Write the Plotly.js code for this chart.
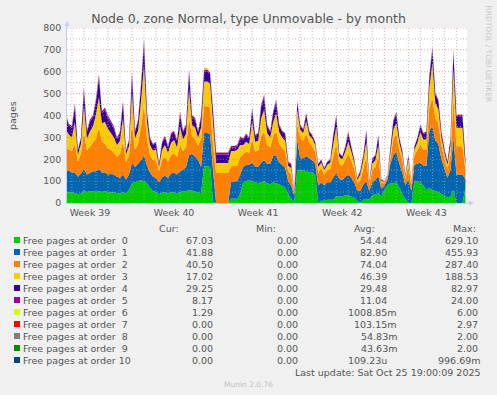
<!DOCTYPE html>
<html><head><meta charset="utf-8">
<script src="https://cdn.plot.ly/plotly-3.0.1.min.js"></script>
<style>html,body{margin:0;padding:0;background:#f0f0f0;}#chart{width:497px;height:395px;}</style>
</head><body><div id="chart"></div>
<script>
// ---- data (6-hourly samples, Free pages per order) ----
const startTime = Date.UTC(2025, 8, 22, 12, 0, 0);
const stepHours = 6;
const seriesColors = ['#00CC00','#0066B3','#FF8000','#FFCC00','#330099','#990099','#CCFF00','#FF0000','#808080','#008F00','#00487D'];
const seriesLabels = ['Free pages at order\u00a0\u00a00','Free pages at order\u00a0\u00a01','Free pages at order\u00a0\u00a02','Free pages at order\u00a0\u00a03','Free pages at order\u00a0\u00a04','Free pages at order\u00a0\u00a05','Free pages at order\u00a0\u00a06','Free pages at order\u00a0\u00a07','Free pages at order\u00a0\u00a08','Free pages at order\u00a0\u00a09','Free pages at order 10'];
const order0 = [50,48,50,45,40,45,55,50,52,55, 50,55,50,55,50,48,50,45,45,50, 42,60,90,95,100,105,100,90,70,55, 50,40,48,50,45,50,48,45,50,52, 55,60,55,50,48,45,168,168,165,5, 0,0,0,0,0,20,20,20,40,95, 100,105,100,95,90,95,100,90,85,95, 90,85,80,70,40,20,0,150,150,150, 145,140,140,130,0,10,10,15,15,15, 30,30,30,35,35,30,25,10,0,15, 20,15,35,40,45,30,60,80,90,90, 95,70,40,20,0,0,100,100,95,80, 60,70,60,55,50,40,35,25,30,60, 0,0,0,67.03];
const order1 = [95,100,90,95,80,90,100,80,85,90, 95,100,90,85,80,85,80,75,70,80, 65,70,95,70,80,90,120,80,70,65, 65,55,70,75,70,85,90,85,95,100, 110,160,170,160,150,120,152,152,150,140, 0,0,0,0,0,78,78,80,90,70, 75,70,85,70,75,90,95,90,95,120, 130,100,95,90,60,60,35,140,55,55, 70,65,55,50,80,85,70,80,80,100, 110,80,75,85,95,85,70,45,55,70, 80,40,60,65,80,35,20,25,90,130, 140,110,100,60,110,55,75,80,90,90, 110,260,290,230,220,160,120,90,120,240, 130,130,130,41.88];
const order2 = [110,95,100,130,70,90,170,110,120,130, 150,190,140,130,120,110,100,90,110,150, 80,85,180,80,90,150,230,120,80,75, 80,50,80,85,75,85,90,80,120,85, 90,170,80,80,65,130,122,122,120,120, 137,137,137,137,137,70,70,70,80,60, 60,55,110,70,75,120,130,85,75,90, 110,85,75,75,45,50,15,70,90,80, 100,70,65,55,60,65,50,55,60,100, 130,70,65,75,95,80,60,35,50,70, 110,25,55,60,90,25,12,10,35,70, 80,60,55,30,60,30,45,60,85,75, 75,110,130,100,95,65,50,40,70,180, 130,130,130,40.5];
const order3 = [80,70,60,100,30,45,120,55,70,75, 110,140,85,100,90,75,70,55,60,110, 35,45,140,50,60,120,180,80,45,45, 50,20,45,55,40,55,60,45,85,55, 60,130,50,55,35,50,114,114,110,100, 46,46,46,46,46,70,70,72,55,40, 45,40,80,45,45,85,100,55,45,65, 80,55,50,50,25,30,5,65,40,35, 60,35,35,30,25,25,20,25,30,55, 80,30,30,40,55,40,30,15,25,40, 70,12,30,30,50,12,5,5,15,45, 50,35,25,12,30,10,25,35,55,45, 45,90,160,70,65,35,25,20,40,130, 84,84,84,17.02];
const order4 = [60,40,45,70,20,25,70,30,45,40, 60,85,45,55,50,45,40,28,35,65, 15,25,80,30,40,65,100,40,28,25, 28,12,30,35,25,35,35,28,55,32, 35,75,35,35,25,45,46,46,45,50, 38,38,38,38,38,15,15,15,30,25, 30,25,50,25,28,50,58,30,25,40, 50,28,25,28,15,15,3,35,18,15, 30,15,12,12,12,12,8,12,12,35, 45,15,12,20,38,20,12,7,15,20, 45,6,20,20,38,6,2,4,8,37, 42,20,15,6,15,4,12,20,27,25, 30,47,60,40,35,22,16,12,28,75, 53,53,53,29.25];
const order5 = [10,8,8,15,5,6,15,6,10,10, 12,15,10,12,10,12,10,7,8,12, 4,5,15,6,10,12,15,10,7,5, 7,3,7,8,5,10,7,7,12,6, 10,15,10,10,7,10,8,8,8,8, 10,10,10,10,10,8,8,8,8,6, 8,5,9,7,7,10,12,8,5,10, 12,7,5,7,5,5,2,8,5,5, 6,5,5,3,3,3,2,3,3,7, 9,5,3,5,10,5,3,2,5,5, 10,2,5,5,9,2,1,1,2,8, 9,5,5,2,5,1,3,5,6,5, 8,10,12,8,7,6,4,3,7,15, 8,8,8,8.17];
const order6 = [1,1,2,1,0,1,2,1,1,1, 2,3,1,1,1,1,1,0,1,2, 0,1,2,1,1,2,3,1,1,0, 1,0,1,1,0,1,1,1,2,1, 1,2,1,1,1,1,6,6,5,1, 1,1,1,1,1,1,1,1,1,1, 1,1,2,1,1,2,2,1,1,1, 2,1,1,1,0,0,0,2,1,1, 2,1,1,0,0,1,0,1,1,1, 2,1,0,1,2,1,0,0,0,1, 2,0,1,1,1,0,0,0,0,1, 2,1,1,0,1,0,0,1,1,1, 1,2,3,1,1,1,0,0,1,3, 2,2,2,1.29];
const order7 = [0,0,0,0,0,0,0,0,0,0, 0,1,0,0,0,0,0,0,0,0, 0,0,0,0,0,0,2.97,0,0,0, 0,0,0,0,0,0,0,0,0,0, 0,0,0,0,0,0,1,1,0,0, 0,0,0,0,0,0,0,0,0,0, 0,0,0,0,0,0,0,0,0,0, 0,0,0,0,0,0,0,0,0,0, 0,0,0,0,0,0,0,0,0,0, 0,0,0,0,0,0,0,0,0,0, 0,0,0,0,0,0,0,0,0,0, 0,0,0,0,0,0,0,0,0,0, 0,0,2,0,0,0,0,0,0,1, 0,0,0,0];
const order8 = [0,0,0,0,0,0,0,0,0,0, 0,0,0,0,0,0,0,0,0,0, 0,0,0,0,0,0,2,0,0,0, 0,0,0,0,0,0,0,0,0,0, 0,1,0,0,0,0,0,0,0,0, 0,0,0,0,0,0,0,0,0,0, 0,0,0,0,0,0,0,0,0,0, 0,0,0,0,0,0,0,0,0,0, 0,0,0,0,0,0,0,0,0,0, 0,0,0,0,0,0,0,0,0,0, 0,0,0,0,0,0,0,0,0,0, 0,0,0,0,0,0,0,0,0,0, 0,0,2,0,0,0,0,0,0,0, 0,0,0,0];
const order9 = [0,0,0,0,0,0,0,0,0,0, 0,2,0,0,0,0,0,0,0,0, 0,0,0,0,0,0,0,0,0,0, 0,0,0,0,0,0,0,0,0,0, 0,0,0,0,0,0,0,0,0,0, 0,0,0,0,0,0,0,0,0,0, 0,0,0,0,0,0,0,0,0,0, 0,0,0,0,0,0,0,0,0,0, 0,0,0,0,0,0,0,0,0,0, 0,0,0,0,0,0,0,0,0,0, 0,0,0,0,0,0,0,0,0,0, 0,0,0,0,0,0,0,0,0,0, 0,0,0,0,0,0,0,0,0,2, 0,0,0,0];
const order10 = [0,0,0,0,0,0,0,0,0,0, 0,0,0,0,0,0,0,0,0,0, 0,0,0,0,0,0,1,0,0,0, 0,0,0,0,0,0,0,0,0,0, 0,0,0,0,0,0,0,0,0,0, 0,0,0,0,0,0,0,0,0,0, 0,0,0,0,0,0,0,0,0,0, 0,0,0,0,0,0,0,0,0,0, 0,0,0,0,0,0,0,0,0,0, 0,0,0,0,0,0,0,0,0,0, 0,0,0,0,0,0,0,0,0,0, 0,0,0,0,0,0,0,0,0,0, 0,0,0,0,0,0,0,0,0,0, 0,0,0,0];
const weekLabels = ['Week 39','Week 40','Week 41','Week 42','Week 43'];
const weekMids = ['2025-09-24 12:00','2025-10-01 12:00','2025-10-08 12:00','2025-10-15 12:00','2025-10-22 12:00'];
const weekStarts = ['2025-09-28','2025-10-05','2025-10-12','2025-10-19'];
const curVals = ['67.03','41.88','40.50','17.02','29.25','8.17','1.29','0.00','0.00','0.00','0.00'];
const minVals = ['0.00','0.00','0.00','0.00','0.00','0.00','0.00','0.00','0.00','0.00','0.00'];
const avgVals = ['54.44','82.90','74.04','46.39','29.48','11.04','1008.85m','103.15m','54.83m','43.63m','109.23u'];
const maxVals = ['629.10','455.93','287.40','188.53','82.97','24.00','6.00','2.97','2.00','2.00','996.69m'];
const xRange = ['2025-09-22 14:12:00','2025-10-25 21:07:00'];

const allSeries = [order0,order1,order2,order3,order4,order5,order6,order7,order8,order9,order10];
function fmt(ms){return new Date(ms).toISOString().slice(0,19).replace('T',' ');}
const times = order0.map((_,i)=>fmt(startTime + i*stepHours*3600e3));

const traces = allSeries.map((ys,k)=>({
  x: times, y: ys, type:'scatter', mode:'lines', stackgroup:'one',
  line:{width:0, color:seriesColors[k]}, fillcolor:seriesColors[k],
  hoverinfo:'skip', showlegend:false, name: seriesLabels[k]
}));

// pixel -> paper helpers (plot area 67..467 x 28..203)
const L=67, T=28, W=400, H=175;
const px = v => (v-L)/W;
const py = v => (T+H-v)/H;
const font = 'DejaVu Sans';
const txt = '#555555';

// grid shapes (drawn above data like rrdtool)
const shapes = [];
const gray = {color:'rgba(170,170,170,0.75)', width:1, dash:'1px,2px'};
const red = {color:'rgba(240,110,110,0.7)', width:1, dash:'1px,2px'};
const d0 = Date.UTC(2025,8,23), d1 = Date.UTC(2025,9,25);
for(let d=d0; d<=d1; d+=86400000){
  const s = fmt(d);
  const isWeek = weekStarts.some(w=>s.startsWith(w));
  shapes.push({type:'line', xref:'x', yref:'paper', x0:s, x1:s, y0:0, y1:1, line: isWeek?red:gray, layer:'above'});
}
for(let v=50; v<=800; v+=50){
  shapes.push({type:'line', xref:'paper', yref:'y', x0:0, x1:1, y0:v, y1:v, line:(v%100===0)?red:gray, layer:'above'});
}
// legend squares
seriesColors.forEach((c,k)=>{
  const cy = 240 + 12*k;
  shapes.push({type:'rect', xref:'paper', yref:'paper', x0:px(14), x1:px(20), y0:py(cy+3), y1:py(cy-3), fillcolor:c, line:{width:0}, layer:'above'});
});

const ann = [];
function A(text, x, y, anchor, size, color, angle){
  ann.push({text, xref:'paper', yref:'paper', x:px(x), y:py(y), xanchor:anchor, yanchor:'middle', showarrow:false,
    font:{family:font, size:size, color:color}, textangle:angle||0});
}
A('Cur:',181,228,'right',9.5,txt); A('Min:',278,228,'right',9.5,txt); A('Avg:',376.5,228,'right',9.5,txt); A('Max:',477.5,228,'right',9.5,txt);
seriesLabels.forEach((lab,k)=>{
  const cy = 240 + 12*k;
  A(lab,20.5,cy,'left',9.5,txt);
  A(curVals[k],215,cy,'right',9.5,txt);
  A(minVals[k],300,cy,'right',9.5,txt);
  const a = avgVals[k]; A(a, /m$/.test(a)?399:389, cy,'right',9.5,txt);
  const m = maxVals[k]; A(m, /m$/.test(m)?483:480, cy,'right',9.5,txt);
});
A('Last update: Sat Oct 25 19:00:09 2025',483,372,'right',9.5,txt);
A('Munin 2.0.76',248,384,'center',7.5,'#c4c4c4');
A('RRDTOOL / TOBI OETIKER',488.5,54,'center',7.5,'#c8c8c8',90);
A('pages',12,115,'center',9.5,txt,-90);
// axis arrows
ann.push({text:'', xref:'paper', yref:'paper', x:0, y:py(21), ax:0, ay:9, showarrow:true, arrowhead:2, arrowsize:1, arrowwidth:1, arrowcolor:'#c4ccf4'});
ann.push({text:'', xref:'paper', yref:'paper', x:px(474), y:0, ax:-9, ay:0, showarrow:true, arrowhead:2, arrowsize:1, arrowwidth:1, arrowcolor:'#c4ccf4'});

const layout = {
  width:497, height:395,
  margin:{l:L, r:497-L-W, t:T, b:395-T-H, pad:0},
  paper_bgcolor:'#f0f0f0', plot_bgcolor:'#ffffff',
  title:{text:'Node 0, zone Normal, type Unmovable - by month', xref:'container', x:0.5, xanchor:'center', y:1-19/395, yanchor:'middle', font:{family:font, size:12.5, color:txt}},
  xaxis:{type:'date', range:xRange, tickmode:'array', tickvals:weekMids, ticktext:weekLabels, showgrid:false, zeroline:false,
    ticks:'outside', ticklen:1, tickcolor:'rgba(0,0,0,0)', showline:true, linecolor:'#c4ccf4', linewidth:1,
    tickfont:{family:font, size:9.4, color:txt}, fixedrange:true},
  yaxis:{range:[0,800], tickmode:'linear', tick0:0, dtick:100, showgrid:false, zeroline:false, showline:true, linecolor:'#c4ccf4', linewidth:1,
    ticks:'outside', ticklen:3, tickcolor:'rgba(0,0,0,0)', tickfont:{family:font, size:9.4, color:txt}, fixedrange:true},
  shapes, annotations: ann, showlegend:false
};
Plotly.newPlot('chart', traces, layout, {staticPlot:true, displayModeBar:false});
</script></body></html>
